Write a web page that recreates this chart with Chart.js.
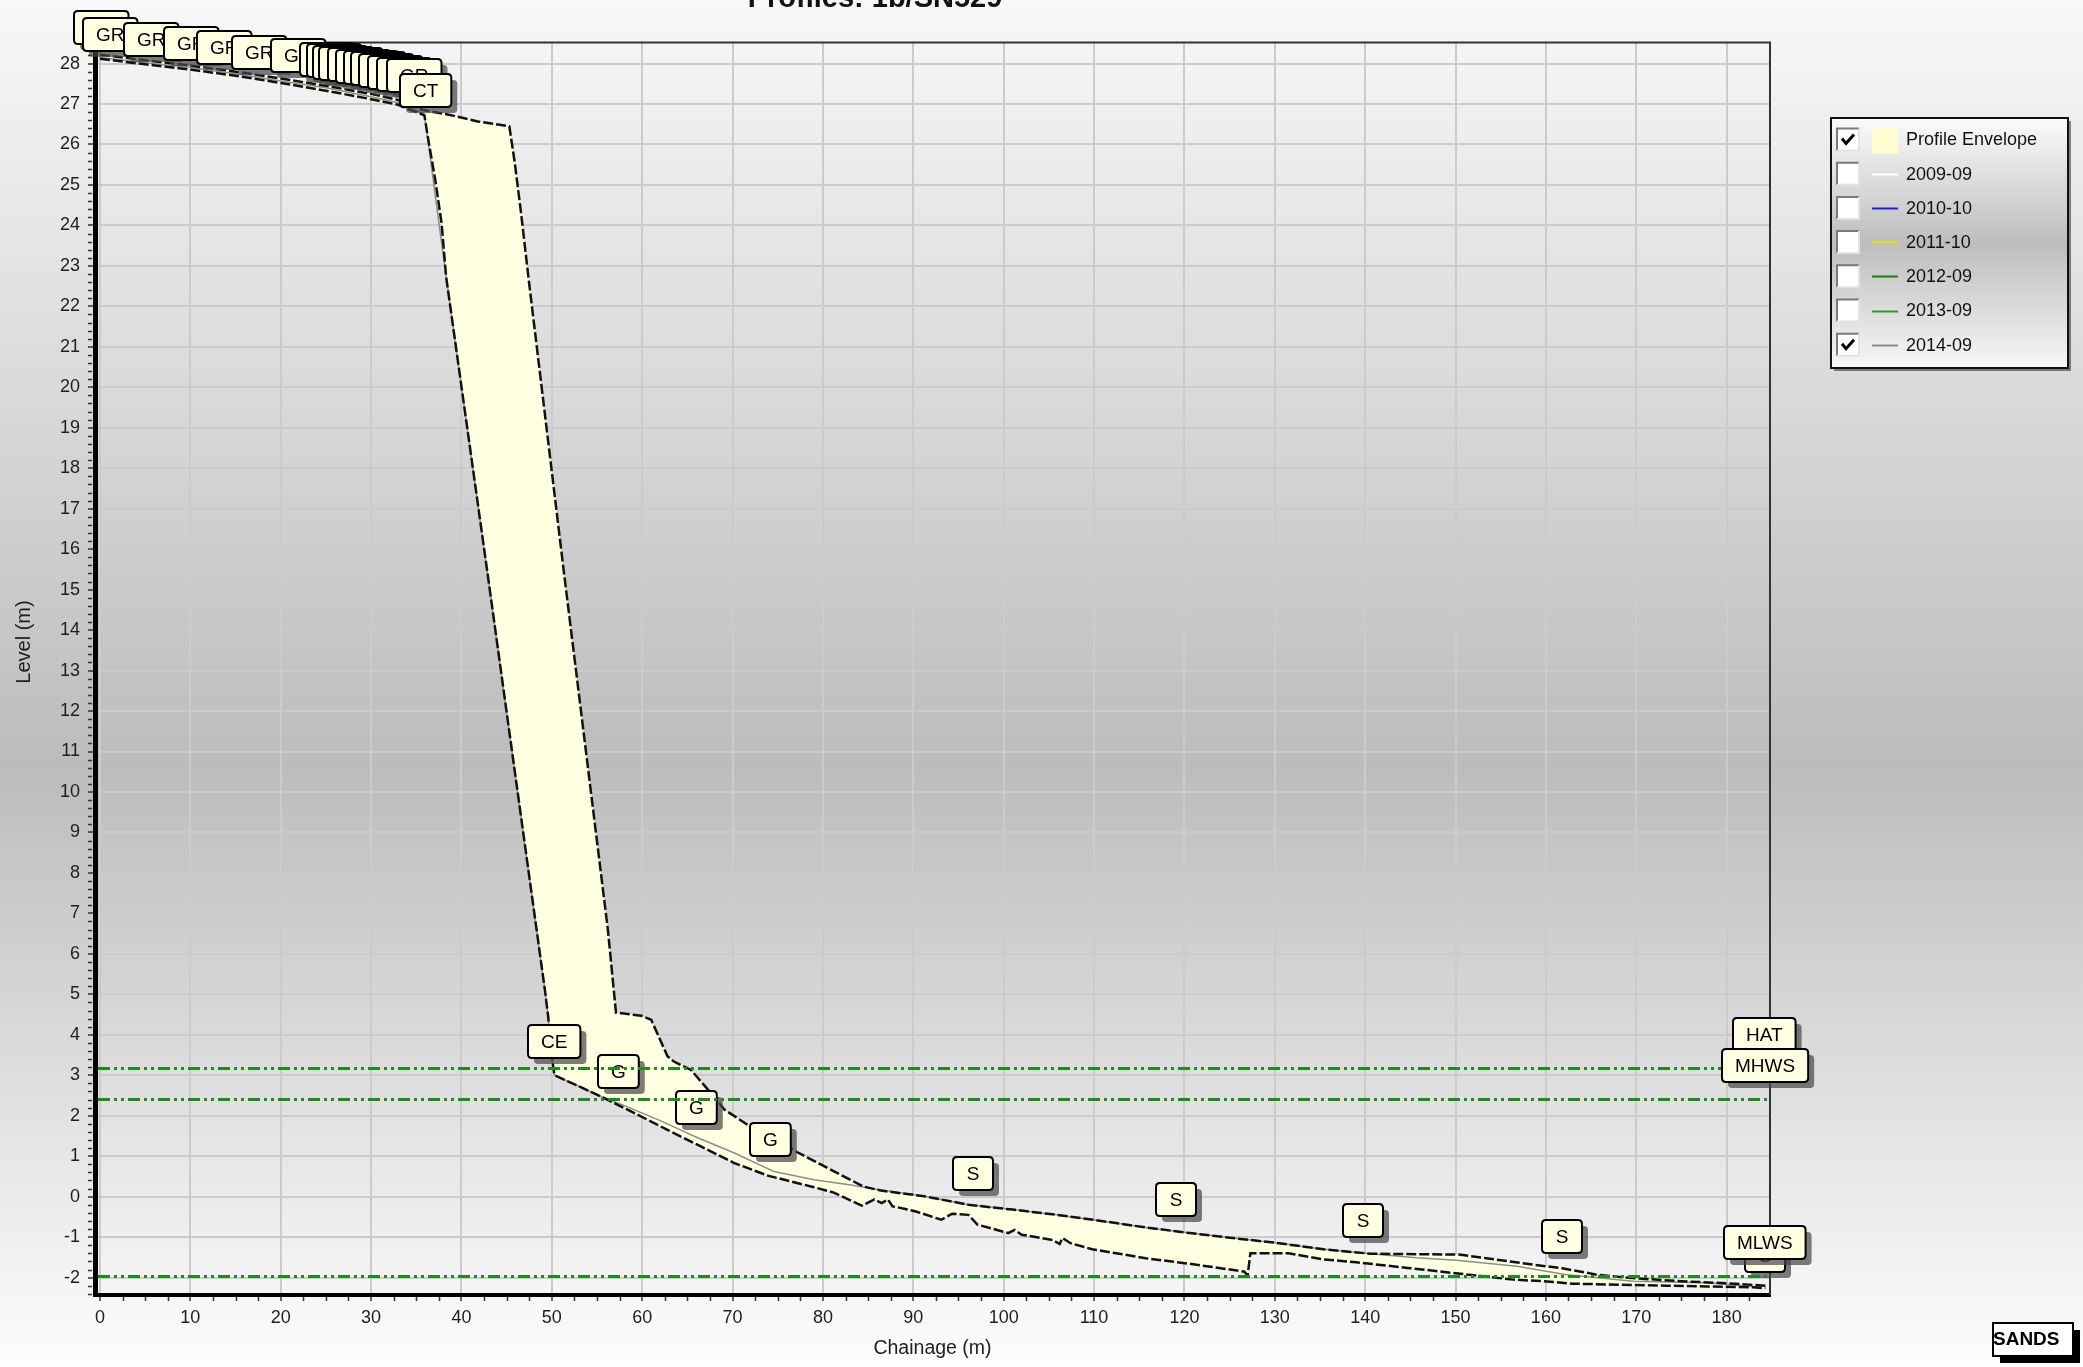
<!DOCTYPE html>
<html>
<head>
<meta charset="utf-8">
<title>Profiles: 1b/SN529</title>
<script src="https://cdn.jsdelivr.net/npm/chart.js@4.4.1/dist/chart.umd.min.js"></script>
<style>
html,body{margin:0;padding:0;overflow:hidden;background:#fff;}
#wrap{position:relative;width:2083px;height:1367px;}
canvas{display:block;}
</style>
</head>
<body>
<div id="wrap"><canvas id="chart" width="2083" height="1367"></canvas></div>
<script>
// ---------------- text ----------------
const chartTitle = 'Profiles: 1b/SN529';
const xAxisTitle = 'Chainage (m)';
const yAxisTitle = 'Level (m)';
const stampText = 'SANDS';

// ---------------- axes ----------------
const xTickValues = [0,10,20,30,40,50,60,70,80,90,100,110,120,130,140,150,160,170,180];
const yTickValues = [-2,-1,0,1,2,3,4,5,6,7,8,9,10,11,12,13,14,15,16,17,18,19,20,21,22,23,24,25,26,27,28];
const xRange = [-0.55, 184.8];
const yRange = [-2.43, 28.52];

// ---------------- profile envelope (upper edge) ----------------
const upperX = [0,5,10,15,20,25,30,33,35.8,38.5,41.8,45.3,45.9,46.6,47.4,51.3,56.2,57.1,59.9,61.0,62.8,63.5,65.4,67.3,69.1,70.2,71.7,74.5,77.3,79.8,82.3,84.5,86.4,91.2,96.1,101,105.9,110.8,115.7,120.6,125.6,130.5,135.4,140.6,150.4,153.4,156,158.6,161.8,165.7,170,175,180,184.3];
const upperY = [28.22,28.08,27.95,27.8,27.63,27.45,27.25,27.1,26.85,26.74,26.57,26.45,25.55,24.3,22.74,15.5,6.6,4.55,4.47,4.37,3.47,3.34,3.13,2.64,2.15,1.99,1.77,1.45,1.08,0.79,0.5,0.25,0.15,0.01,-0.2,-0.32,-0.45,-0.6,-0.76,-0.9,-1.03,-1.15,-1.3,-1.41,-1.43,-1.52,-1.6,-1.68,-1.77,-1.93,-2.02,-2.09,-2.14,-2.2];

// ---------------- profile envelope (lower edge) ----------------
const lowerX = [0,5,10,15,20,25,30,33,35.9,36.3,37.1,37.8,38.3,42.85,49.3,49.4,49.6,49.9,50.3,55.5,57.3,59.1,62.8,66.5,70.2,73.9,78.9,81.2,84.3,85.7,86.5,87.2,87.7,88.2,90.2,93.1,94.3,96.1,97.1,100.5,101.2,102,105.4,106.2,106.5,107.4,109.8,115.7,120.6,126.6,127.0,127.3,131.5,135.4,139,144.7,150.3,156.4,159.7,163,173.3,177.8,182.9,184.3];
const lowerY = [28.12,27.98,27.85,27.7,27.52,27.33,27.12,26.98,26.72,26.16,25.13,24.06,22.74,15.46,5.0,4.8,4.45,3.6,3.0,2.47,2.27,2.07,1.65,1.24,0.83,0.52,0.24,0.1,-0.22,-0.07,-0.16,-0.07,-0.24,-0.26,-0.36,-0.57,-0.42,-0.45,-0.69,-0.9,-0.82,-0.94,-1.07,-1.17,-1.02,-1.15,-1.3,-1.52,-1.66,-1.85,-1.94,-1.4,-1.4,-1.55,-1.62,-1.76,-1.9,-2.05,-2.09,-2.15,-2.2,-2.22,-2.24,-2.26];

// ---------------- 2014-09 profile ----------------
const p2014X = [0,5,10,15,20,25,30,33,35.9,38.3,42.85,49.3,49.6,49.9,50.3,55.5,57.5,62,65,66.2,70.2,74.6,79,83.1,85.7,91.2,96.1,101,105.9,110.8,115.7,120.6,125.6,130.5,135.4,140.6,145.7,150.1,156.8,162.3,169.7,177.8,183.9];
const p2014Y = [28.15,28.02,27.9,27.75,27.57,27.4,27.18,27.03,26.75,22.74,15.46,5.0,4.45,3.6,3.0,2.47,2.3,1.88,1.57,1.45,1.08,0.62,0.42,0.29,0.19,0.01,-0.2,-0.32,-0.45,-0.6,-0.76,-0.9,-1.03,-1.15,-1.3,-1.41,-1.51,-1.57,-1.72,-1.93,-2.09,-2.13,-2.24];

// ---------------- feature code tags on the 2014-09 profile ----------------
const tagText = ['GR','GR','GR','GR','GR','GR','GR','GR','GR','GR','GR','GR','GR','GR','GR','GR','GR','GR','GR','CT','CE','G','G','G','S','S','S','S','S'];
const tagX = [0.1,1.1,5.7,10.1,13.8,17.6,21.9,25.2,25.9,26.6,27.3,28.2,29.1,30.0,30.8,31.7,32.7,33.7,34.8,36.05,50.26,57.35,66.0,74.2,96.6,119.1,139.8,161.8,184.2];
const tagY = [28.06,27.9,27.77,27.67,27.57,27.44,27.37,27.27,27.24,27.2,27.17,27.14,27.1,27.07,27.04,27.0,26.94,26.9,26.87,26.51,3.0,2.26,1.38,0.59,-0.25,-0.89,-1.42,-1.81,-2.27];

// ---------------- tide levels ----------------
const tideNames = ['HAT','MHWS','MLWS'];
const tideLevels = [3.18, 2.42, -1.97];
const tideTagX = [184.2, 184.2, 184.2];

// ---------------- legend ----------------
const legendLabels = ['Profile Envelope','2009-09','2010-10','2011-10','2012-09','2013-09','2014-09'];
const legendColors = ['#fffdd0','#ffffff','#2020c8','#e4e400','#1e7e1e','#22a022','#8c8c8c'];
const legendChecked = [true,false,false,false,false,false,true];

// ---------------- styling ----------------
const FONT = '"Liberation Sans", Arial, sans-serif';
const ENVELOPE_FILL = '#ffffe1';
const TIDE_COLOR = '#1f8a1f';

const toPts = (xs, ys) => xs.map((x, i) => ({x: x, y: ys[i]}));

function roundRectPath(ctx, x, y, w, h, r) {
  ctx.beginPath();
  ctx.moveTo(x + r, y);
  ctx.lineTo(x + w - r, y);
  ctx.quadraticCurveTo(x + w, y, x + w, y + r);
  ctx.lineTo(x + w, y + h - r);
  ctx.quadraticCurveTo(x + w, y + h, x + w - r, y + h);
  ctx.lineTo(x + r, y + h);
  ctx.quadraticCurveTo(x, y + h, x, y + h - r);
  ctx.lineTo(x, y + r);
  ctx.quadraticCurveTo(x, y, x + r, y);
  ctx.closePath();
}

function drawTag(ctx, text, px, py) {
  ctx.font = '19px ' + FONT;
  const w = Math.max(40, ctx.measureText(text).width + 26);
  const h = 33;
  const x = Math.round(px - w / 2), y = Math.round(py - 17 - h);
  ctx.fillStyle = 'rgba(70,70,70,0.7)';
  roundRectPath(ctx, x + 6, y + 6, w, h, 4);
  ctx.fill();
  ctx.fillStyle = '#ffffe1';
  roundRectPath(ctx, x, y, w, h, 4);
  ctx.fill();
  ctx.strokeStyle = '#000';
  ctx.lineWidth = 2;
  ctx.stroke();
  ctx.fillStyle = '#000';
  ctx.textAlign = 'center';
  ctx.textBaseline = 'middle';
  ctx.fillText(text, x + w / 2, y + h / 2 + 1);
}

const backgroundPlugin = {
  id: 'background',
  beforeDraw(chart) {
    const {ctx, width, height} = chart;
    const g = ctx.createLinearGradient(0, 0, 0, height);
    g.addColorStop(0, '#f8f8f8');
    g.addColorStop(0.56, '#bcbcbc');
    g.addColorStop(1, '#fdfdfd');
    ctx.save();
    ctx.fillStyle = g;
    ctx.fillRect(0, 0, width, height);
    ctx.restore();
  }
};

const overlayPlugin = {
  id: 'overlay',
  afterDatasetsDraw(chart) {
    const {ctx, chartArea: a, scales: {x, y}} = chart;
    ctx.save();
    // top and right frame
    ctx.strokeStyle = '#333';
    ctx.lineWidth = 2;
    ctx.beginPath();
    ctx.moveTo(a.left, a.top);
    ctx.lineTo(a.right, a.top);
    ctx.lineTo(a.right, a.bottom);
    ctx.stroke();

    // minor tick marks
    ctx.strokeStyle = '#333';
    ctx.lineWidth = 1.5;
    ctx.beginPath();
    for (let i = 1; i * 2.5 < xRange[1]; i++) {
      if (i % 4 === 0) continue;
      const px = Math.round(x.getPixelForValue(i * 2.5)) + 0.5;
      ctx.moveTo(px, a.bottom + 2);
      ctx.lineTo(px, a.bottom + 6);
    }
    for (let i = Math.ceil(yRange[0] * 5); i / 5 < yRange[1]; i++) {
      if (i % 5 === 0) continue;
      const py = Math.round(y.getPixelForValue(i / 5)) + 0.5;
      ctx.moveTo(a.left - 3, py);
      ctx.lineTo(a.left - 7, py);
    }
    ctx.stroke();

    // feature tags
    for (let i = 0; i < tagText.length; i++) {
      drawTag(ctx, tagText[i], x.getPixelForValue(tagX[i]), y.getPixelForValue(tagY[i]));
    }

    // tide lines
    ctx.strokeStyle = TIDE_COLOR;
    ctx.lineWidth = 3;
    ctx.setLineDash([12, 4, 3, 4, 3, 4]);
    tideLevels.forEach(v => {
      const py = Math.round(y.getPixelForValue(v)) + 0.5;
      ctx.beginPath();
      ctx.moveTo(a.left + 3, py);
      ctx.lineTo(a.right - 1, py);
      ctx.stroke();
    });
    ctx.setLineDash([]);

    // tide tags
    for (let i = 0; i < tideNames.length; i++) {
      drawTag(ctx, tideNames[i], x.getPixelForValue(tideTagX[i]), y.getPixelForValue(tideLevels[i]));
    }
    ctx.restore();
  },
  afterDraw(chart) {
    const {ctx} = chart;
    ctx.save();
    // title (cut at the top edge as in the source)
    ctx.fillStyle = '#111';
    ctx.font = 'bold 29px ' + FONT;
    ctx.textAlign = 'center';
    ctx.textBaseline = 'alphabetic';
    ctx.fillText(chartTitle, 875, 7);

    // y axis title
    ctx.save();
    ctx.translate(24, 642);
    ctx.rotate(-Math.PI / 2);
    ctx.font = '20px ' + FONT;
    ctx.fillStyle = '#1e1e1e';
    ctx.textAlign = 'center';
    ctx.textBaseline = 'middle';
    ctx.fillText(yAxisTitle, 0, 0);
    ctx.restore();

    // legend
    const L = {x: 1831, y: 118, w: 237, h: 250};
    const lg = ctx.createLinearGradient(0, L.y, 0, L.y + L.h);
    lg.addColorStop(0, '#fbfbfb');
    lg.addColorStop(0.5, '#bdbdbd');
    lg.addColorStop(1, '#f7f7f7');
    ctx.fillStyle = lg;
    ctx.fillRect(L.x, L.y, L.w, L.h);
    ctx.strokeStyle = '#111';
    ctx.lineWidth = 2;
    ctx.strokeRect(L.x, L.y, L.w, L.h);
    ctx.strokeStyle = 'rgba(0,0,0,0.45)';
    ctx.beginPath();
    ctx.moveTo(L.x + L.w + 2, L.y + 3);
    ctx.lineTo(L.x + L.w + 2, L.y + L.h + 2);
    ctx.lineTo(L.x + 3, L.y + L.h + 2);
    ctx.stroke();
    ctx.font = '18px ' + FONT;
    ctx.textAlign = 'left';
    ctx.textBaseline = 'middle';
    for (let i = 0; i < legendLabels.length; i++) {
      const top = 128.5 + i * 34.2;
      const cy = top + 11;
      const cbx = 1837;
      ctx.fillStyle = '#ffffff';
      ctx.fillRect(cbx, top, 22, 22);
      ctx.strokeStyle = '#7a7a7a';
      ctx.lineWidth = 2;
      ctx.beginPath();
      ctx.moveTo(cbx, top + 22); ctx.lineTo(cbx, top); ctx.lineTo(cbx + 22, top);
      ctx.stroke();
      ctx.strokeStyle = '#e2e2e2';
      ctx.beginPath();
      ctx.moveTo(cbx + 22, top); ctx.lineTo(cbx + 22, top + 22); ctx.lineTo(cbx, top + 22);
      ctx.stroke();
      if (legendChecked[i]) {
        ctx.strokeStyle = '#000';
        ctx.lineWidth = 3;
        ctx.beginPath();
        ctx.moveTo(cbx + 5, top + 10);
        ctx.lineTo(cbx + 9, top + 15);
        ctx.lineTo(cbx + 17, top + 6);
        ctx.stroke();
      }
      if (i === 0) {
        ctx.fillStyle = legendColors[i];
        ctx.fillRect(1872, top, 26, 25);
      } else {
        ctx.strokeStyle = legendColors[i];
        ctx.lineWidth = 2;
        ctx.beginPath();
        ctx.moveTo(1872, Math.round(cy) + 0.5);
        ctx.lineTo(1898, Math.round(cy) + 0.5);
        ctx.stroke();
      }
      ctx.fillStyle = '#111';
      ctx.fillText(legendLabels[i], 1906, cy + 1);
    }

    // SANDS stamp
    ctx.fillStyle = '#000';
    ctx.fillRect(2000, 1330, 80, 33);
    ctx.fillStyle = '#fff';
    ctx.fillRect(1993, 1323, 80, 33);
    ctx.strokeStyle = '#000';
    ctx.lineWidth = 2;
    ctx.strokeRect(1993, 1323, 80, 33);
    ctx.fillStyle = '#000';
    ctx.font = 'bold 19px ' + FONT;
    ctx.textAlign = 'left';
    ctx.textBaseline = 'middle';
    ctx.fillText(stampText, 1993, 1340);
    ctx.restore();
  }
};

const envelopeLine = {
  borderColor: '#111',
  borderWidth: 2.5,
  borderDash: [10, 3],
  pointRadius: 0,
  showLine: true,
  tension: 0
};

new Chart(document.getElementById('chart'), {
  type: 'scatter',
  data: {
    datasets: [
      Object.assign({label: 'Profile Envelope', data: toPts(upperX, upperY), fill: '+1', backgroundColor: ENVELOPE_FILL}, envelopeLine),
      Object.assign({label: 'Profile Envelope (lower)', data: toPts(lowerX, lowerY), fill: false}, envelopeLine),
      {label: '2014-09', data: toPts(p2014X, p2014Y), borderColor: '#8c8c8c', borderWidth: 1.5, pointRadius: 0, showLine: true, fill: false, tension: 0}
    ]
  },
  options: {
    responsive: false,
    animation: false,
    devicePixelRatio: 1,
    layout: {padding: {left: 0, right: 313, top: 42.5, bottom: 0}},
    plugins: {
      legend: {display: false},
      title: {display: false},
      tooltip: {enabled: false},
      filler: {drawTime: 'beforeDatasetsDraw'}
    },
    scales: {
      x: {
        type: 'linear',
        min: xRange[0],
        max: xRange[1],
        afterBuildTicks: s => { s.ticks = xTickValues.map(v => ({value: v})); },
        afterFit: s => { s.height = 72; },
        grid: {color: '#cbcbcb', lineWidth: 2, drawTicks: true, tickLength: 6, tickColor: '#333', tickWidth: 1.5},
        border: {display: true, color: '#000', width: 4},
        ticks: {font: {family: FONT, size: 18}, color: '#1e1e1e', padding: 6, maxRotation: 0, autoSkip: false, callback: v => String(v)},
        title: {display: true, text: xAxisTitle, font: {family: FONT, size: 19.5}, color: '#1e1e1e', padding: {top: 0, bottom: 7}}
      },
      y: {
        type: 'linear',
        min: yRange[0],
        max: yRange[1],
        afterBuildTicks: s => { s.ticks = yTickValues.map(v => ({value: v})); },
        afterFit: s => { s.width = 95; },
        grid: {color: '#cbcbcb', lineWidth: 2, drawTicks: true, tickLength: 7, tickColor: '#333', tickWidth: 1.5},
        border: {display: true, color: '#000', width: 5},
        ticks: {font: {family: FONT, size: 18}, color: '#1e1e1e', padding: 8, autoSkip: false, callback: v => String(v)},
        title: {display: false}
      }
    }
  },
  plugins: [backgroundPlugin, overlayPlugin]
});
</script>
</body>
</html>
